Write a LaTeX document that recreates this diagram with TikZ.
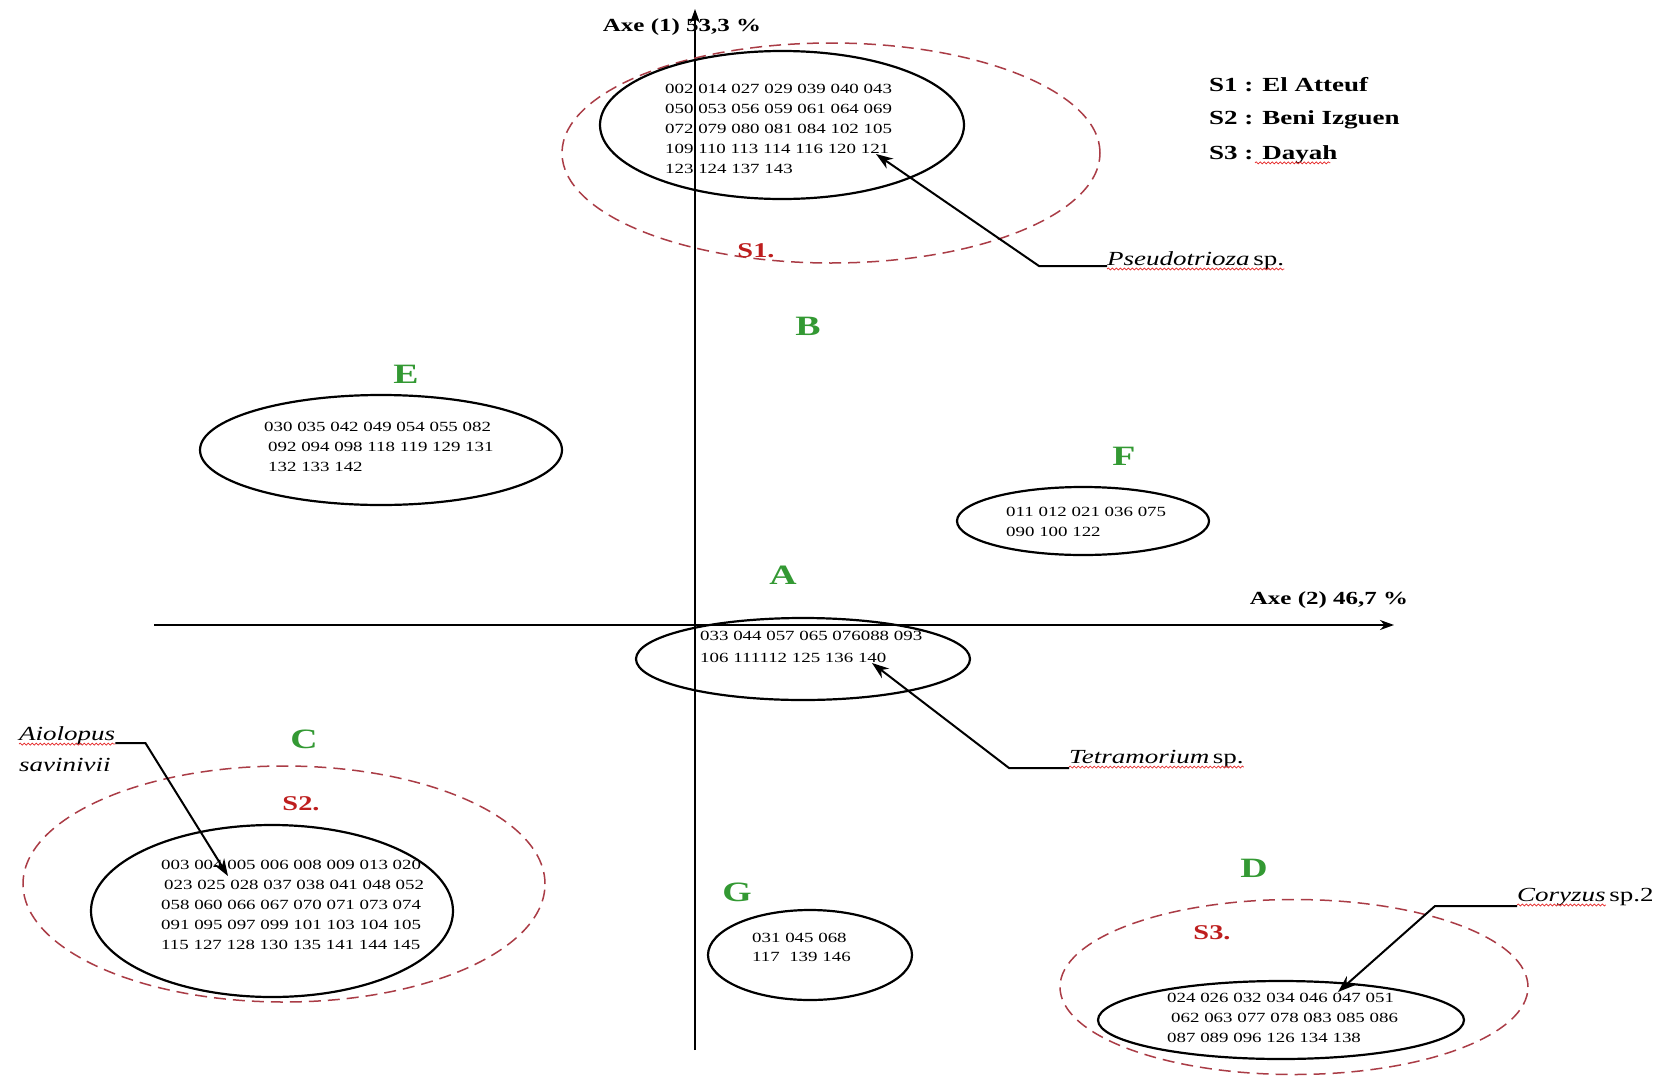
\documentclass[tikz,border=0pt]{standalone}
\usepackage{fontspec}
\setmainfont{Liberation Serif}
\newfontfamily\wfont[FakeStretch=1.35]{Liberation Serif}
\usetikzlibrary{shapes.geometric,arrows.meta,decorations.pathmorphing}
\definecolor{grpgreen}{RGB}{51,153,51}
\definecolor{sitered}{RGB}{190,30,30}
\definecolor{dashred}{RGB}{170,60,70}
\definecolor{spellred}{RGB}{230,40,40}
\begin{document}
\begin{tikzpicture}[x=1pt,y=-1pt,
  grp/.style={ellipse, draw=black, line width=2.2pt, inner sep=0pt},
  site/.style={ellipse, draw=dashred, line width=1.5pt, dash pattern=on 12pt off 7pt, inner sep=0pt},
  nums/.style={font=\wfont\fontsize{14}{20}\selectfont, align=left, anchor=north west, inner sep=0pt},
  grplet/.style={font=\wfont\bfseries\fontsize{28}{28}\selectfont, text=grpgreen, inner sep=0pt},
  sitelbl/.style={font=\wfont\bfseries\fontsize{21}{21}\selectfont, text=sitered, inner sep=0pt},
  axlbl/.style={font=\wfont\bfseries\fontsize{18.5}{18.5}\selectfont, inner sep=0pt},
  leg/.style={font=\wfont\bfseries\fontsize{20}{20}\selectfont, inner sep=0pt, anchor=west},
  spname/.style={font=\wfont\itshape\fontsize{20}{20}\selectfont, inner sep=0pt, anchor=base west},
  spsuf/.style={font=\wfont\fontsize{20}{20}\selectfont, inner sep=0pt, anchor=base west},
  axis/.style={line width=1.9pt, -{Stealth[length=14pt,width=10pt]}},
  pointer/.style={line width=2pt, -{Stealth[length=17pt,width=12pt]}},
  spell/.style={draw=spellred, line width=0.7pt, decorate, decoration={snake, amplitude=1pt, segment length=4pt}}
]
\useasboundingbox (0,0) rectangle (1663,1076);
\fill[white] (0,0) rectangle (1663,1076);

% axes
\coordinate (ybot) at (695,1050);
\coordinate (ytop) at (695,9);
\coordinate (xleft) at (154,625);
\coordinate (xright) at (1394,625);
\draw[axis] (ybot) -- (ytop);
\draw[axis] (xleft) -- (xright);
\node[axlbl] (ax1) at (682,27) {Axe (1) 53,3 \%};
\node[axlbl] (ax2) at (1329,600) {Axe (2) 46,7 \%};

% legend
\node[leg] (l1) at (1209,85) {S1 : El Atteuf};
\node[leg] (l2) at (1209,120) {S2 : Beni Izguen};
\node[leg] (l3) at (1209,155) {S3 : Dayah};
\node[font=\wfont\bfseries\fontsize{20}{20}\selectfont, inner sep=0pt, anchor=base west] (dayw) at (l3.base -| 1255,0) {\phantom{Dayah}};
\draw[spell] ([yshift=-3pt]dayw.base west) -- ([yshift=-3pt]dayw.base east);

% dashed site ellipses
\node[site, minimum width=538pt, minimum height=220pt] (s1e) at (831,153) {};
\node[site, minimum width=522pt, minimum height=236pt] (s2e) at (284,884) {};
\node[site, minimum width=468pt, minimum height=175pt] (s3e) at (1294,987) {};

% group ellipses
\node[grp, minimum width=364pt, minimum height=148pt] (eB) at (782,125) {};
\node[grp, minimum width=362pt, minimum height=110pt] (eE) at (381,450) {};
\node[grp, minimum width=252pt, minimum height=68pt] (eF) at (1083,521) {};
\node[grp, minimum width=334pt, minimum height=82pt] (eA) at (803,659) {};
\node[grp, minimum width=362pt, minimum height=172pt] (eC) at (272,911) {};
\node[grp, minimum width=204pt, minimum height=90pt] (eG) at (810,955) {};
\node[grp, minimum width=366pt, minimum height=78pt] (eD) at (1281,1020) {};

% numbers
\node[nums] (tB) at (665,84) {002 014 027 029 039 040 043\\050 053 056 059 061 064 069\\072 079 080 081 084 102 105\\109 110 113 114 116 120 121\\123 124 137 143};
\node[nums] (tE) at (264,422) {030 035 042 049 054 055 082\\\hspace{4pt}092 094 098 118 119 129 131\\\hspace{4pt}132 133 142};
\node[nums] (tF) at (1006,507) {011 012 021 036 075\\090 100 122};
\node[nums, font=\wfont\fontsize{14}{22}\selectfont] (tA) at (700,631) {033 044 057 065 076088 093\\106 111112 125 136 140};
\node[nums] (tC) at (161,860) {003 004 005 006 008 009 013 020\\\hspace{3pt}023 025 028 037 038 041 048 052\\058 060 066 067 070 071 073 074\\091 095 097 099 101 103 104 105\\115 127 128 130 135 141 144 145};
\node[nums, font=\wfont\fontsize{14}{19}\selectfont] (tG) at (752,933) {031 045 068\\117\ \ 139 146};
\node[nums] (tD) at (1167,993) {024 026 032 034 046 047 051\\\hspace{4pt}062 063 077 078 083 085 086\\087 089 096 126 134 138};

% group letters
\node[grplet] (gA) at (783,575) {A};
\node[grplet] (gB) at (808,326) {B};
\node[grplet] (gC) at (304,739) {C};
\node[grplet] (gD) at (1254,868) {D};
\node[grplet] (gE) at (406,374) {E};
\node[grplet] (gF) at (1124,456) {F};
\node[grplet] (gG) at (737,892) {G};

% site labels
\node[sitelbl] (sl1) at (756,251) {S1.};
\node[sitelbl] (sl2) at (301,804) {S2.};
\node[sitelbl] (sl3) at (1212,933) {S3.};

% species labels
\node[spname] (pseudo) at (1107,265) {Pseudotrioza};
\node[spsuf] (pseudos) at (pseudo.base east) {\,sp.};
\draw[spell] ([yshift=-4pt]pseudo.base west) -- ([yshift=-4pt]pseudos.base east);

\node[spname] (tetra) at (1069,763) {Tetramorium};
\node[spsuf] (tetras) at (tetra.base east) {\,sp.};
\draw[spell] ([yshift=-4pt]tetra.base west) -- ([yshift=-4pt]tetras.base east);

\node[spname] (cory) at (1517,901) {Coryzus};
\node[spsuf] (corys) at (cory.base east) {\,sp.2};
\draw[spell] ([yshift=-4pt]cory.base west) -- ([yshift=-4pt]cory.base east);

\node[spname] (aio) at (19,740) {Aiolopus};
\node[spname] (sav) at (19,771) {savinivii};
\draw[spell] ([yshift=-4pt]aio.base west) -- ([yshift=-4pt]aio.base east);

% pointers
\coordinate (tipP) at (876,154);
\coordinate (tipT) at (872,663);
\coordinate (tipC) at (1338,992);
\coordinate (tipA) at (228,876);
\draw[pointer] ([yshift=-1pt]pseudo.base west) -- ++(-68,0) -- (tipP);
\draw[pointer] ([yshift=-5pt]tetra.base west) -- ++(-60,0) -- (tipT);
\draw[pointer] ([yshift=-5pt]cory.base west) -- ++(-82,0) -- (tipC);
\draw[pointer] ([yshift=-3pt]aio.base east) -- ++(30,0) -- (tipA);
\end{tikzpicture}
\end{document}
